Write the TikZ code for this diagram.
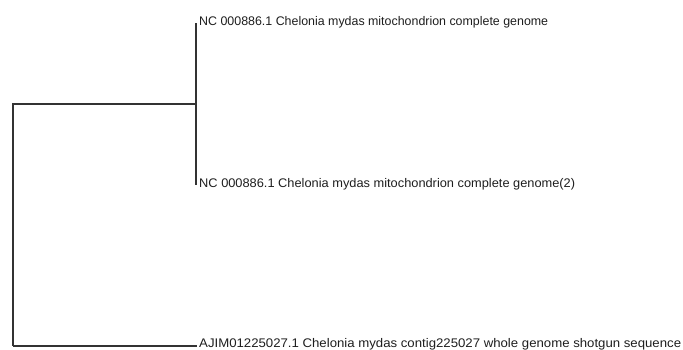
\documentclass[tikz,border=0pt]{standalone}
\usepackage{fontspec}
\usepackage{graphicx}
\setmainfont{Liberation Sans}
\definecolor{branch}{HTML}{333333}
\definecolor{labelink}{HTML}{1E1E1E}
% set a label at its natural height, stretched or squeezed to a given width
\newcommand{\fitlabel}[2]{\resizebox{#1}{\height}{\fontsize{12.5}{14}\selectfont #2}}
\tikzset{
  branchline/.style={draw=branch, line width=1.3pt},
  leaf/.style={anchor=west, inner sep=0pt, text=labelink},
}
\begin{document}
\begin{tikzpicture}[x=1pt, y=-1pt]
  \useasboundingbox (0,0) rectangle (683,349);
  % internal nodes of the tree
  \coordinate (root) at (13,104);
  \coordinate (rootlow) at (13,346);
  \coordinate (inner) at (196,104);
  \coordinate (innertop) at (196,23);
  \coordinate (innerlow) at (196,185);
  \coordinate (tiplow) at (197,346);
  % leaf labels
  \node[leaf] (l1) at (199,22) {\fitlabel{349pt}{NC 000886.1 Chelonia mydas mitochondrion complete genome}};
  \node[leaf] (l2) at (199,184) {\fitlabel{376pt}{NC 000886.1 Chelonia mydas mitochondrion complete genome(2)}};
  \node[leaf] (l3) at (199,344) {\fitlabel{482pt}{AJIM01225027.1 Chelonia mydas contig225027 whole genome shotgun sequence}};
  % branches
  \draw[branchline] (rootlow) -- (root) -- (inner);
  \draw[branchline] (innertop) -- (innerlow);
  \draw[branchline] (rootlow) -- (tiplow);
\end{tikzpicture}
\end{document}
